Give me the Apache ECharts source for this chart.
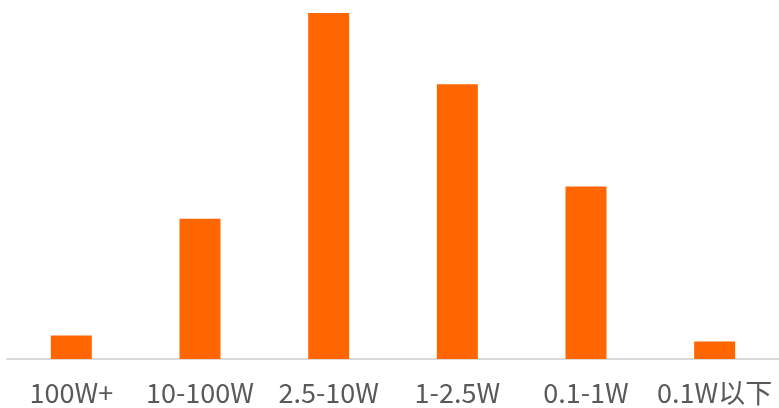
<!DOCTYPE html>
<html>
<head>
<meta charset="utf-8">
<script src="https://cdn.jsdelivr.net/npm/echarts@6/dist/echarts.min.js"></script>
<style>html,body{margin:0;padding:0;background:#fff}#c{width:779px;height:408px}</style>
</head>
<body>
<div id="c"></div>
<script>
var categories = ['100W+', '10-100W', '2.5-10W', '1-2.5W', '0.1-1W', '0.1W以下'];
var values = [2.4, 14.4, 35.5, 28.2, 17.7, 1.8];

var chart = echarts.init(document.getElementById('c'));
chart.setOption({
  animation: false,
  grid: { left: 7, right: 0, top: 13, bottom: 49 },
  xAxis: {
    type: 'category',
    data: categories,
    axisTick: { show: false },
    axisLine: { lineStyle: { color: '#d9d9d9', width: 2 } },
    axisLabel: { color: '#595959', fontSize: 27, margin: 20, interval: 0,
      fontFamily: '"Noto Sans CJK SC", "Noto Sans", sans-serif' }
  },
  yAxis: {
    type: 'value', min: 0, max: 35.5, show: false,
    splitLine: { show: false }
  },
  series: [{
    type: 'bar',
    data: values,
    barWidth: 41,
    itemStyle: { color: '#FF6600' }
  }]
});
</script>
</body>
</html>
